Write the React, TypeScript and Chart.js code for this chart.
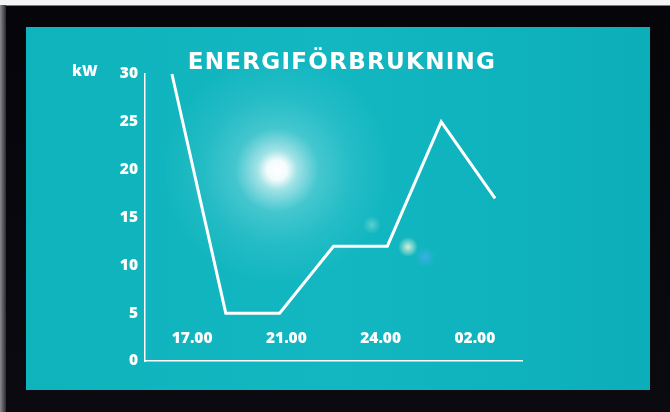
import React, { useEffect, useRef } from "react";
import { Chart, registerables } from "chart.js";

Chart.register(...registerables);

const TITLE = "ENERGIFÖRBRUKNING";
const UNIT = "kW";
const timeSlots = ["16.30", "18.30", "20.30", "22.30", "00.30", "01.30", "02.30"];
const powerKW = [30, 5, 5, 12, 12, 25, 17];
const timeLabels = ["17.00", "21.00", "24.00", "02.00"];
const yMin = 0;
const yMax = 30;
const yStep = 5;

const TICK_FONT = { family: "'Open Sans', sans-serif", weight: 800 as any, size: 15.5, lineHeight: 1 };

export default function App() {
  const ref = useRef<HTMLCanvasElement | null>(null);

  useEffect(() => {
    if (!ref.current) return;
    const chart = new Chart(ref.current, {
      type: "line",
      data: {
        labels: timeSlots,
        datasets: [
          {
            data: powerKW,
            borderColor: "#ffffff",
            borderWidth: 3,
            tension: 0,
            pointRadius: 0,
            borderJoinStyle: "miter",
            clip: false as any,
            fill: false,
          },
        ],
      },
      options: {
        responsive: false,
        animation: false,
        maintainAspectRatio: false,
        layout: { padding: { left: 60, right: 148, top: 74, bottom: 51 } },
        plugins: {
          legend: { display: false },
          title: { display: false },
          tooltip: { enabled: false },
        },
        scales: {
          x: {
            type: "category",
            offset: true,
            grid: { display: false, drawTicks: false },
            border: { display: true, color: "#ffffff", width: 1.5 },
            ticks: { display: false },
            afterFit: (s: any) => {
              s.height = 0;
            },
          },
          xTime: {
            type: "category",
            labels: timeLabels,
            offset: true,
            position: { y: 4 } as any,
            grid: { display: false, drawTicks: false },
            border: { display: false },
            ticks: {
              color: "#ffffff",
              font: TICK_FONT,
              padding: 8.5,
              maxRotation: 0,
              autoSkip: false,
            },
          },
          y: {
            min: yMin,
            max: yMax,
            grid: { display: false, drawTicks: false },
            border: { display: true, color: "#ffffff", width: 1.5 },
            ticks: {
              stepSize: yStep,
              color: "#ffffff",
              font: TICK_FONT,
              padding: 7,
            },
            afterFit: (s: any) => {
              s.width = 85;
            },
          },
        },
      },
    });
    return () => chart.destroy();
  }, []);

  return (
    <div
      style={{
        position: "fixed",
        left: 0,
        top: 0,
        width: 670,
        height: 412,
        background: "linear-gradient(180deg, #f4f4f4 0px, #f4f4f4 5px, #05050a 6px, #0a0a10 100%)",
        overflow: "hidden",
      }}
    >
      <div
        style={{
          position: "absolute",
          left: 0,
          top: 5,
          width: 6,
          height: 407,
          background: "linear-gradient(90deg, #8a8a90, #2a2a30)",
        }}
      />
      <div
        style={{
          position: "absolute",
          left: 26,
          top: 27,
          width: 624,
          height: 363,
          background: [
            "radial-gradient(circle at 251px 143px, rgba(255,255,255,1) 0px, rgba(255,255,255,0.95) 10px, rgba(255,255,255,0.6) 20px, rgba(200,240,245,0.28) 42px, rgba(200,240,245,0.1) 75px, rgba(200,240,245,0) 115px)",
            "radial-gradient(circle at 382px 220px, rgba(255,255,220,0.8) 0px, rgba(255,255,220,0.4) 5px, rgba(255,255,255,0) 10px)",
            "radial-gradient(circle at 399px 230px, rgba(90,170,255,0.6) 0px, rgba(90,170,255,0.2) 6px, rgba(90,170,255,0) 11px)",
            "radial-gradient(circle at 346px 198px, rgba(220,255,230,0.35) 0px, rgba(220,255,230,0) 9px)",
            "linear-gradient(90deg, #0fb3bc 0%, #12b7c1 50%, #0cafb9 100%)",
          ].join(", "),
        }}
      />
      <canvas
        ref={ref}
        width={670}
        height={412}
        style={{ position: "absolute", left: 0, top: 0, width: 670, height: 412 }}
      />
      <div
        style={{
          position: "absolute",
          left: 142,
          top: 50,
          width: 400,
          textAlign: "center",
          color: "#ffffff",
          fontFamily: "'DejaVu Sans', sans-serif",
          fontWeight: "bold",
          fontSize: 23,
          letterSpacing: "1.3px",
          lineHeight: 1,
          whiteSpace: "nowrap",
        }}
      >
        {TITLE}
      </div>
      <div
        style={{
          position: "absolute",
          left: 72,
          top: 63,
          color: "#ffffff",
          fontFamily: "'Open Sans', sans-serif",
          fontWeight: 800,
          fontSize: 15,
          lineHeight: 1,
          whiteSpace: "nowrap",
        }}
      >
        {UNIT}
      </div>
    </div>
  );
}
